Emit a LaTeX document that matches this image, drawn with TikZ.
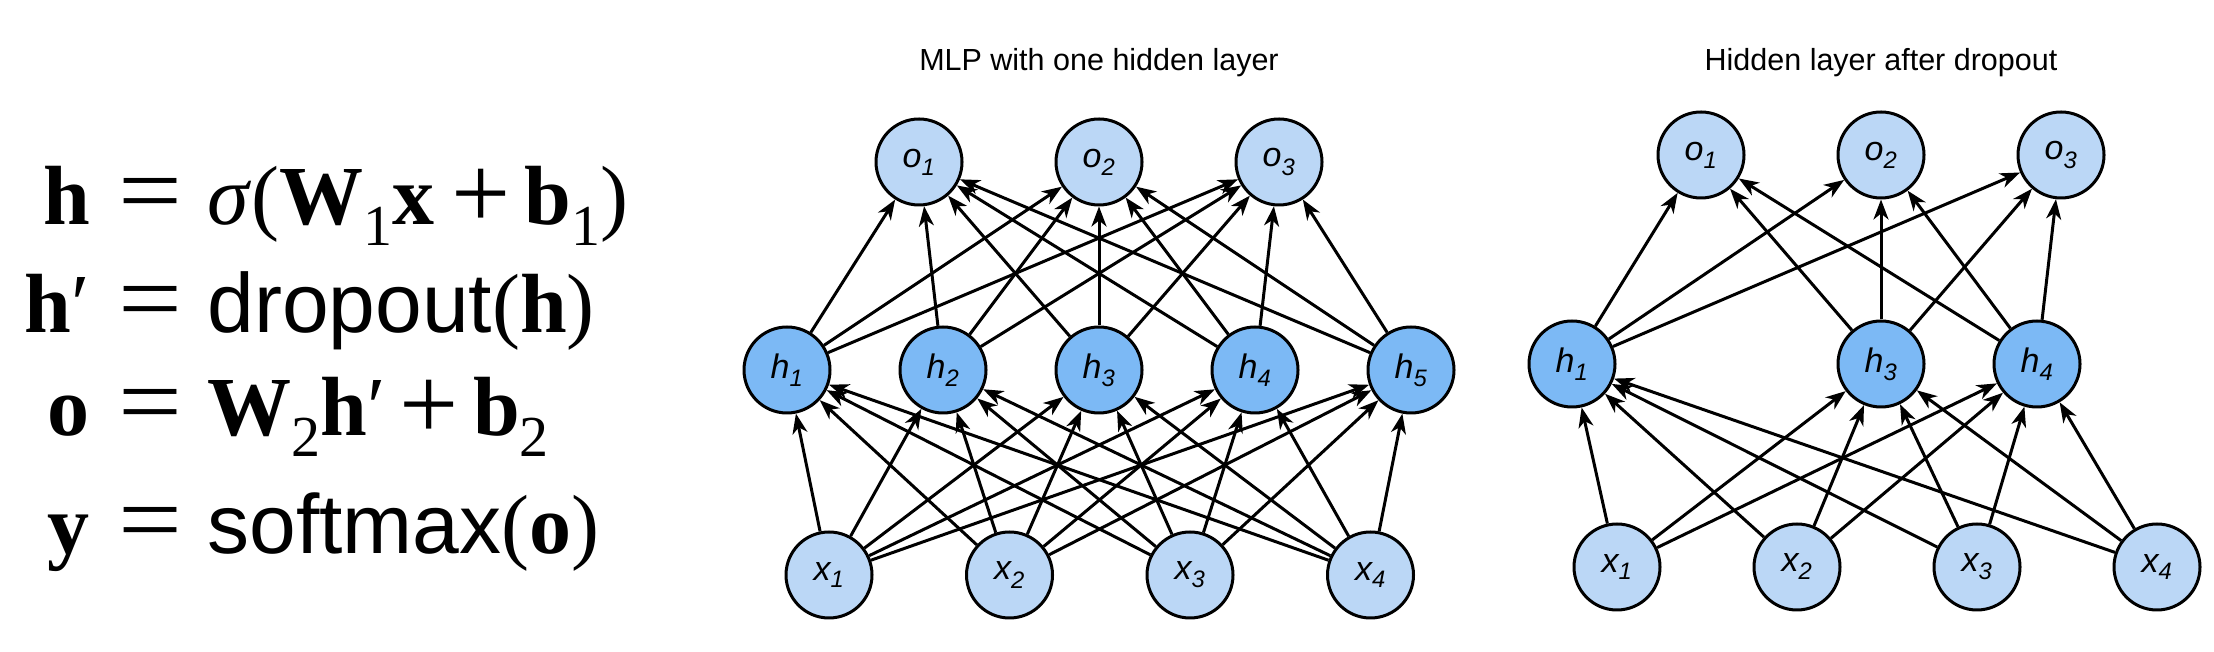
\documentclass[tikz,border=0pt]{standalone}
\usepackage{fontspec}
\setmainfont{Liberation Serif}
\setsansfont{Liberation Sans}
\usepackage{xcolor}
\usetikzlibrary{positioning,arrows.meta}
\definecolor{inblue}{RGB}{187,215,246}
\definecolor{hidblue}{RGB}{124,185,245}
\newcommand{\vb}[1]{\textbf{#1}}
\newcommand{\lsub}[1]{\raisebox{-0.24em}{\fontsize{58}{58}\selectfont #1}}
\newcommand{\eqsign}{\scalebox{1.35}[1.2]{=}}
\newcommand{\plussign}{\raisebox{-0.04em}{\scalebox{1.25}{+}}}
\newcommand{\prm}{\textnormal{′}}
\newcommand{\neuron}[2]{{\sffamily\itshape #1\textsubscript{#2}}}

\begin{document}
\begin{tikzpicture}[
    every node/.style={font=\sffamily\fontsize{34}{38}\selectfont},
    unit/.style={draw, circle, line width=3pt, minimum size=86pt, inner sep=0pt},
    inp/.style={unit, fill=inblue},
    outp/.style={unit, fill=inblue},
    hid/.style={unit, fill=hidblue},
    conn/.style={-{Stealth[length=20pt,width=15pt,inset=6pt]}, line width=3pt},
    heading/.style={font=\sffamily\fontsize{30.5}{36}\selectfont, inner sep=0pt},
    eqn/.style={font=\rmfamily\fontsize{84}{100}\selectfont, inner sep=0pt}
  ]
  \useasboundingbox (0,0) rectangle (2214pt,652pt);

  % equations
  \node[eqn, anchor=base east] (lhs1) at (90pt,427pt) {\vb{h}};
  \node[eqn, anchor=base west] (rhs1) at (118pt,427pt) {\eqsign\hspace{.3em}\textit{σ}(\vb{W}\lsub{1}\vb{x}\hspace{.2em}\plussign\hspace{.17em}\vb{b}\lsub{1})};
  \node[eqn, anchor=base east] (lhs2) at (90pt,319pt) {\vb{h}\prm};
  \node[eqn, anchor=base west] (rhs2) at (118pt,319pt) {\eqsign\hspace{.3em}{\sffamily dropout}(\vb{h})};
  \node[eqn, anchor=base east] (lhs3) at (90pt,216pt) {\vb{o}};
  \node[eqn, anchor=base west] (rhs3) at (118pt,216pt) {\eqsign\hspace{.3em}\vb{W}\lsub{2}\vb{h}\prm\hspace{.17em}\plussign\hspace{.17em}\vb{b}\lsub{2}};
  \node[eqn, anchor=base east] (lhs4) at (90pt,98pt) {\vb{y}};
  \node[eqn, anchor=base west] (rhs4) at (118pt,98pt) {\eqsign\hspace{.3em}{\sffamily softmax}(\vb{o})};

  % full network: hidden layer
  \node[hid] (h1) at (787pt,282pt) {\neuron{h}{1}};
  \node[hid, right=67pt of h1] (h2) {\neuron{h}{2}};
  \node[hid, right=67pt of h2] (h3) {\neuron{h}{3}};
  \node[hid, right=67pt of h3] (h4) {\neuron{h}{4}};
  \node[hid, right=67pt of h4] (h5) {\neuron{h}{5}};
  % outputs
  \node[outp, above=119pt of h3] (o2) {\neuron{o}{2}};
  \node[outp, left=91pt of o2] (o1) {\neuron{o}{1}};
  \node[outp, right=91pt of o2] (o3) {\neuron{o}{3}};
  % inputs
  \node[inp] (x1) at (829pt,77pt) {\neuron{x}{1}};
  \node[inp, right=91.5pt of x1] (x2) {\neuron{x}{2}};
  \node[inp, right=91.5pt of x2] (x3) {\neuron{x}{3}};
  \node[inp, right=91.5pt of x3] (x4) {\neuron{x}{4}};
  \node[heading, above=40pt of o2] (ltitle) {MLP with one hidden layer};

  % after dropout: h2 and h5 removed
  \node[hid] (rh3) at (1881pt,288pt) {\neuron{h}{3}};
  \node[hid, right=67pt of rh3] (rh4) {\neuron{h}{4}};
  \node[hid, left=220pt of rh3] (rh1) {\neuron{h}{1}};
  \node[outp, above=120pt of rh3] (ro2) {\neuron{o}{2}};
  \node[outp, left=91pt of ro2] (ro1) {\neuron{o}{1}};
  \node[outp, right=91pt of ro2] (ro3) {\neuron{o}{3}};
  \node[inp] (rx1) at (1617pt,85pt) {\neuron{x}{1}};
  \node[inp, right=91pt of rx1] (rx2) {\neuron{x}{2}};
  \node[inp, right=91pt of rx2] (rx3) {\neuron{x}{3}};
  \node[inp, right=91pt of rx3] (rx4) {\neuron{x}{4}};
  \node[heading, above=33pt of ro2] (rtitle) {Hidden layer after dropout};

  % --- arrows ---
  \foreach \i in {1,...,4}
    \foreach \j in {1,...,5}
      \draw[conn] (x\i) -- (h\j);
  \foreach \j in {1,...,5}
    \foreach \k in {1,2,3}
      \draw[conn] (h\j) -- (o\k);

  \foreach \i in {1,...,4}
    \foreach \j in {1,3,4}
      \draw[conn] (rx\i) -- (rh\j);
  \foreach \j in {1,3,4}
    \foreach \k in {1,2,3}
      \draw[conn] (rh\j) -- (ro\k);

\end{tikzpicture}
\end{document}
